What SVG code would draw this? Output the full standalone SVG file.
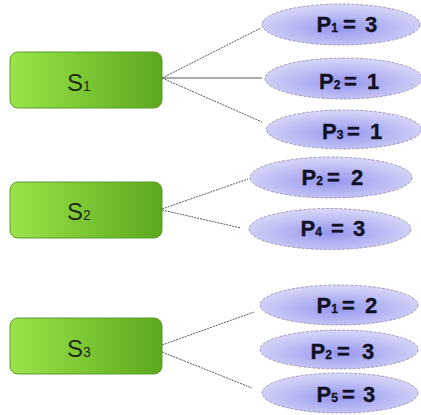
<svg xmlns="http://www.w3.org/2000/svg" width="421" height="415" viewBox="0 0 421 415">
<defs>
<linearGradient id="gGreen" x1="0" y1="0" x2="1" y2="0">
<stop offset="0" stop-color="#9ae44a"/>
<stop offset="1" stop-color="#5ca81c"/>
</linearGradient>
<radialGradient id="gBlue" cx="0.5" cy="0.6" r="0.55">
<stop offset="0" stop-color="#9696ee"/>
<stop offset="1" stop-color="#d4d4f8"/>
</radialGradient>
<style>
.sbox{fill:url(#gGreen);stroke:#5e9a2c;stroke-width:1}
.stxt{font-family:"Liberation Sans",Arial,sans-serif;font-size:24px;fill:#1a2a10}
.ssub{font-size:14px}
.pell{fill:url(#gBlue);stroke:#8a8aa8;stroke-width:0.8;stroke-dasharray:3 1.5}
.ptxt{font-family:"Liberation Sans",Arial,sans-serif;font-weight:bold;font-size:22px;fill:#121226;stroke:#121226;stroke-width:0.35}
.psub{font-size:12px}
.conn{stroke:#444;stroke-width:0.9;fill:none}
.dot{stroke-dasharray:2 1}
</style>
</defs>
<rect width="421" height="415" fill="#ffffff"/>
<g id="connectors">
<line class="conn dot" x1="162" y1="78" x2="261" y2="28"/>
<line class="conn" x1="162" y1="78" x2="262" y2="78" stroke-width="1.4"/>
<line class="conn dot" x1="162" y1="78" x2="262" y2="122"/>
<line class="conn dot" x1="162" y1="209" x2="248" y2="179"/>
<line class="conn dot" x1="162" y1="210" x2="241" y2="228"/>
<line class="conn dot" x1="162" y1="345" x2="254" y2="312"/>
<line class="conn dot" x1="162" y1="352" x2="252" y2="388"/>
</g>
<g id="S1">
<rect class="sbox" x="10" y="52" width="152" height="56" rx="8"/>
<text class="stxt" x="67" y="91">S<tspan class="ssub">1</tspan></text>
</g>
<g id="S2">
<rect class="sbox" x="10" y="182" width="152" height="56" rx="8"/>
<text class="stxt" x="67" y="220">S<tspan class="ssub">2</tspan></text>
</g>
<g id="S3">
<rect class="sbox" x="10" y="318" width="152" height="56" rx="8"/>
<text class="stxt" x="67" y="357">S<tspan class="ssub">3</tspan></text>
</g>
<g id="P1_3">
<ellipse class="pell" cx="341" cy="24.5" rx="79" ry="20.5"/>
<text class="ptxt" x="316.5" y="32">P<tspan class="psub">1</tspan><tspan x="343">=</tspan><tspan x="365">3</tspan></text>
</g>
<g id="P2_1">
<ellipse class="pell" cx="343.5" cy="78.5" rx="78.5" ry="20.5"/>
<text class="ptxt" x="319" y="89">P<tspan class="psub">2</tspan><tspan x="344">=</tspan><tspan x="367">1</tspan></text>
</g>
<g id="P3_1">
<ellipse class="pell" cx="344" cy="129.5" rx="77.5" ry="19.5"/>
<text class="ptxt" x="322" y="139">P<tspan class="psub">3</tspan><tspan x="347">=</tspan><tspan x="370">1</tspan></text>
</g>
<g id="P2_2">
<ellipse class="pell" cx="331" cy="177.5" rx="81" ry="20.5"/>
<text class="ptxt" x="301.5" y="185">P<tspan class="psub">2</tspan><tspan x="327">=</tspan><tspan x="351">2</tspan></text>
</g>
<g id="P4_3">
<ellipse class="pell" cx="330" cy="229" rx="81" ry="20.5"/>
<text class="ptxt" x="300.5" y="236">P<tspan class="psub">4</tspan><tspan x="331">=</tspan><tspan x="353">3</tspan></text>
</g>
<g id="P1_2">
<ellipse class="pell" cx="339" cy="305" rx="79" ry="20"/>
<text class="ptxt" x="316.5" y="313">P<tspan class="psub">1</tspan><tspan x="342">=</tspan><tspan x="365">2</tspan></text>
</g>
<g id="P2_3">
<ellipse class="pell" cx="339" cy="349.5" rx="79" ry="19.5"/>
<text class="ptxt" x="310.5" y="359">P<tspan class="psub">2</tspan><tspan x="337">=</tspan><tspan x="362">3</tspan></text>
</g>
<g id="P5_3">
<ellipse class="pell" cx="340" cy="393" rx="78" ry="20"/>
<text class="ptxt" x="316.5" y="402">P<tspan class="psub">5</tspan><tspan x="342">=</tspan><tspan x="363">3</tspan></text>
</g>
</svg>
